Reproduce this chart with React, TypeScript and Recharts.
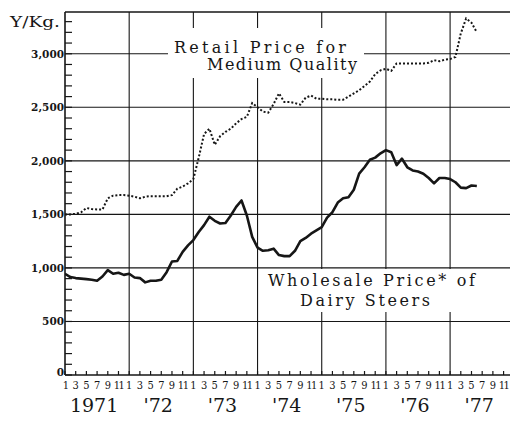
import React from 'react';
import { LineChart, Line, XAxis, YAxis, ReferenceLine } from 'recharts';

// Monthly values, Jan 1971 (index 0) .. Jun 1977 (index 77), Yen per Kg
const retailPrice = [
  1500, 1500, 1505, 1520, 1560, 1550, 1545, 1545, 1650, 1675, 1680, 1680,
  1675, 1665, 1650, 1665, 1670, 1670, 1670, 1670, 1680, 1740, 1760, 1790,
  1830, 2030, 2250, 2300, 2150, 2230, 2270, 2300, 2350, 2390, 2410, 2540,
  2500, 2460, 2450, 2530, 2630, 2550, 2550, 2540, 2525, 2590, 2610, 2580,
  2580, 2575, 2575, 2570, 2570, 2600, 2630, 2660, 2700, 2740, 2810, 2845,
  2860, 2840, 2910, 2910, 2910, 2910, 2910, 2910, 2915, 2940, 2930, 2945,
  2950, 2970, 3190, 3330, 3290, 3200,
];

const wholesalePrice = [
  945, 915, 905, 900, 895, 890, 880, 920, 980, 945, 955, 935,
  945, 910, 905, 865, 880, 880, 890, 960, 1060, 1065, 1150, 1210,
  1260, 1335, 1400, 1478, 1440, 1415, 1420, 1490, 1570, 1630, 1490, 1290,
  1190, 1160, 1165, 1180, 1120, 1110, 1110, 1160, 1250, 1280, 1320, 1350,
  1380, 1470, 1520, 1610, 1650, 1660, 1730, 1880, 1940, 2010, 2030, 2070,
  2100, 2080, 1960, 2020, 1940, 1910, 1900, 1880, 1840, 1790, 1840, 1840,
  1830, 1800, 1750, 1745, 1770, 1765,
];

const yearLabels = ["1971", "'72", "'73", "'74", "'75", "'76", "'77"];
const monthTicks = [
  0, 2, 4, 6, 8, 10, 12, 14, 16, 18, 20, 22, 24, 26, 28, 30, 32, 34,
  36, 38, 40, 42, 44, 46, 48, 50, 52, 54, 56, 58, 60, 62, 64, 66, 68, 70,
  72, 74, 76, 78, 80, 82,
];
const yMinorTicks = [
  0, 100, 200, 300, 400, 500, 600, 700, 800, 900, 1000, 1100, 1200, 1300,
  1400, 1500, 1600, 1700, 1800, 1900, 2000, 2100, 2200, 2300, 2400, 2500,
  2600, 2700, 2800, 2900, 3000, 3100, 3200, 3300,
];
const yGridValues = [500, 1000, 1500, 2000, 2500, 3000];
const yearStarts = [12, 24, 36, 48, 60, 72];

const data = retailPrice.map((r, i) => ({ m: i, retail: r, wholesale: wholesalePrice[i] }));

const TYPE = '"DejaVu Serif", "Liberation Serif", serif';
const INK = '#161616';
const X_MAX = 83.2;
const Y_MAX = 3390;

function XTick(props: any) {
  const { x, y, payload } = props;
  const m = payload.value as number;
  const month = (m % 12) + 1;
  const yi = Math.floor(m / 12);
  return (
    <g>
      <line x1={x} x2={x} y1={y} y2={y - 4} stroke={INK} strokeWidth={1.2} />
      <text x={m === 0 ? x + 1 : x} y={y + 14} textAnchor="middle" fontFamily={TYPE} fontStretch="condensed"
        fontSize={11} fill={INK} letterSpacing={month === 11 ? -1.5 : 0}>
        {month}
      </text>
      {month === 7 && yi < yearLabels.length ? (
        <text x={x - 3} y={y + 37} textAnchor="middle" fontFamily={TYPE} fontSize={19} fill={INK}>
          {yearLabels[yi]}
        </text>
      ) : null}
    </g>
  );
}

function YTick(props: any) {
  const { x, y, payload } = props;
  const v = payload.value as number;
  return (
    <g>
      <line x1={x} x2={x + 7} y1={y} y2={y} stroke={INK} strokeWidth={1.2} />
      {v % 500 === 0 ? (
        <text x={x - 1} y={v === 0 ? y + 1 : y + 4} textAnchor="end" fontFamily={TYPE} fontSize={10.5}
          fontWeight="bold" fill={INK}>
          {v.toLocaleString('en-US')}
        </text>
      ) : null}
    </g>
  );
}

export default function App() {
  return (
    <div style={{ position: 'absolute', left: 0, top: 0, width: 510, height: 424, background: '#fff', overflow: 'hidden' }}>
      <LineChart width={510} height={424} data={data} margin={{ top: 12, right: 0, left: 0, bottom: 0 }}>
        <XAxis
          dataKey="m"
          type="number"
          domain={[0, X_MAX]}
          ticks={monthTicks}
          interval={0}
          tick={<XTick />}
          tickLine={false}
          tickSize={0}
          tickMargin={0}
          height={49}
          axisLine={{ stroke: INK, strokeWidth: 1.6 }}
          allowDataOverflow
        />
        <YAxis
          type="number"
          domain={[0, Y_MAX]}
          ticks={yMinorTicks}
          interval={0}
          tick={<YTick />}
          tickLine={false}
          tickSize={0}
          tickMargin={0}
          width={65}
          axisLine={{ stroke: INK, strokeWidth: 1.6 }}
          allowDataOverflow
        />
        {yGridValues.map((v) => (
          <ReferenceLine key={'h' + v} y={v} stroke={INK} strokeWidth={1.1} />
        ))}
        <ReferenceLine y={Y_MAX} stroke={INK} strokeWidth={1.3} />
        {yearStarts.map((v) => (
          <ReferenceLine key={'v' + v} x={v} stroke={INK} strokeWidth={1.1} />
        ))}
        <Line
          dataKey="retail"
          stroke={INK}
          strokeWidth={2}
          strokeDasharray="2 2"
          dot={false}
          isAnimationActive={false}
          type="linear"
        />
        <Line
          dataKey="wholesale"
          stroke={INK}
          strokeWidth={2.6}
          strokeLinejoin="round"
          dot={false}
          isAnimationActive={false}
          type="linear"
        />
      </LineChart>
      <svg width={510} height={424} style={{ position: 'absolute', left: 0, top: 0, pointerEvents: 'none' }}>
        <text x={10} y={27} fontFamily={TYPE} fontSize={15} fill={INK} textLength={50} lengthAdjust="spacingAndGlyphs">Y/Kg.</text>
        <rect x={168} y={28} width={196} height={50} fill="#fff" />
        <text x={174} y={53} fontFamily={TYPE} fontSize={16} fill={INK} textLength={172} lengthAdjust="spacing">Retail Price for</text>
        <text x={207} y={70} fontFamily={TYPE} fontSize={16} fill={INK} textLength={150} lengthAdjust="spacing">Medium Quality</text>
        <rect x={263} y={269} width={247} height={43} fill="#fff" />
        <text x={268} y={286} fontFamily={TYPE} fontSize={16} fill={INK} textLength={207} lengthAdjust="spacing">Wholesale Price* of</text>
        <text x={300} y={306} fontFamily={TYPE} fontSize={16} fill={INK} textLength={130} lengthAdjust="spacing">Dairy Steers</text>
      </svg>
    </div>
  );
}
